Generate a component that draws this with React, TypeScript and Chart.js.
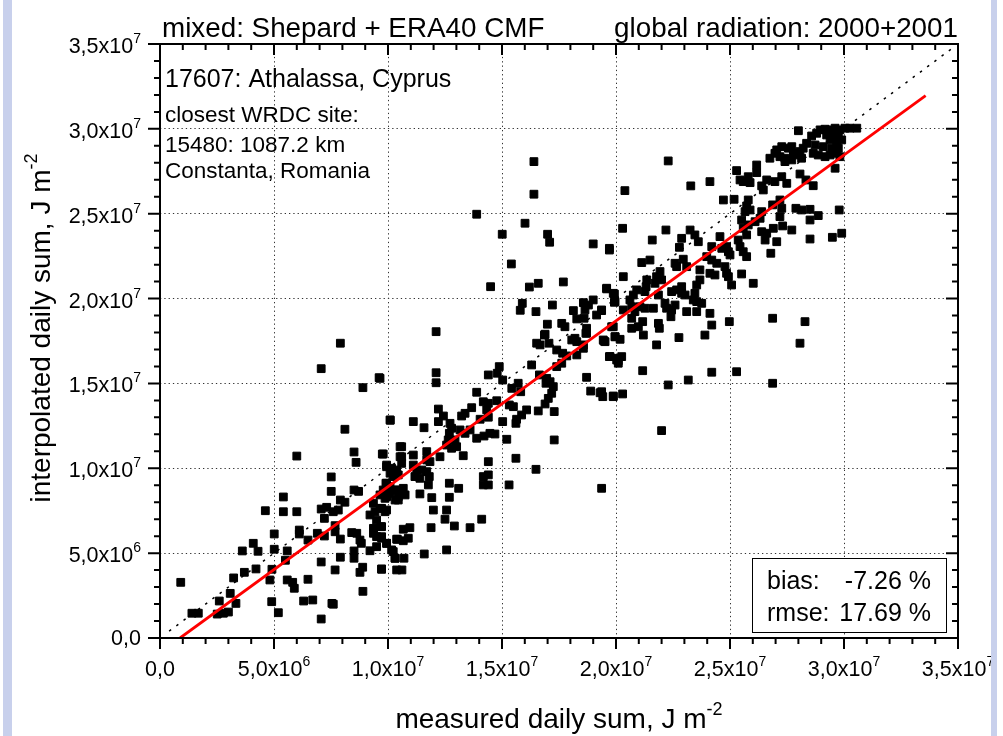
import React, { useEffect, useRef } from "react";
import { Chart, registerables } from "chart.js";

Chart.register(...registerables);

// values in units of 1e6 J m-2
const measured = [
  7.91, 7.07, 9.61, 8.90, 10.10, 8.11, 6.00, 8.51, 8.60, 9.75, 7.51, 7.51, 8.51, 8.71, 5.41, 7.91, 8.11, 4.62, 5.41, 6.00,
  7.07, 7.31, 7.60, 7.82, 7.21, 7.68, 5.01, 6.11, 6.11, 6.49, 6.90, 7.21, 7.68, 7.91, 8.41, 8.63, 8.77, 8.83, 4.09, 3.61,
  4.30, 5.01, 5.58, 5.50, 7.07, 7.91, 8.51, 8.51, 7.68, 8.89, 8.77, 9.72, 4.21, 3.70, 3.23, 4.91, 4.82, 5.58, 5.82, 5.89,
  6.49, 0.91, 3.08, 2.60, 3.33, 4.90, 6.30, 6.70, 7.54, 7.60, 8.90, 1.40, 1.68, 2.51, 2.78, 3.00, 5.19, 7.07, 9.94, 10.09,
  10.23, 9.91, 10.09, 10.32, 9.65, 9.87, 9.36, 9.65, 9.94, 9.43, 9.21, 9.50, 9.36, 9.69, 9.36, 9.50, 9.72, 9.94, 9.50, 9.21,
  10.16, 10.31, 10.38, 10.41, 10.45, 10.53, 10.53,
  12.11, 12.11, 12.11, 16.86, 16.52, 16.67, 17.06, 17.40, 17.66, 17.62, 17.40, 18.06, 18.28, 18.57, 18.71, 18.57, 19.52, 19.74, 20.06, 20.10,
  18.28, 17.84, 16.30, 16.64, 14.88, 14.79, 14.40, 15.03, 15.43, 15.71, 15.82, 16.96, 17.11, 17.25, 16.93, 18.71, 18.89, 19.30, 19.42, 19.88,
  17.18, 17.03, 16.89, 17.29, 16.59, 13.89, 14.18, 14.40, 14.77, 15.32, 15.50, 16.08, 15.86, 15.64, 15.61, 15.03, 13.67, 13.38, 13.23, 14.04,
  14.40, 14.33, 12.21, 12.43, 12.21, 12.72, 12.79, 12.69, 13.16, 13.38, 13.60, 13.89, 14.21, 14.47, 14.69, 15.21, 17.29, 10.09, 11.11, 11.58,
  10.60, 10.60, 10.60, 9.79, 9.65, 11.11, 11.70, 11.70, 11.84, 12.28, 12.57, 12.79, 13.01, 13.30, 12.64, 12.94, 14.40, 15.61, 16.49, 9.94,
  10.16, 10.38, 10.45, 11.11, 11.26, 11.48, 11.70, 11.81, 11.18, 11.40, 11.77, 9.94, 9.79, 10.09, 10.38, 10.67, 10.45, 10.75, 10.31, 9.94,
  9.72, 9.87, 11.40, 11.92, 12.69, 13.10, 12.69, 14.18, 14.40, 14.18, 14.40, 15.31, 19.37, 11.99, 12.57, 12.50, 11.89, 12.91, 13.60, 14.11,
  9.72, 9.72, 9.94, 10.23, 10.67, 10.96, 10.38, 10.67, 10.89, 10.31, 10.70, 11.59, 12.57, 10.61, 9.72,
  28.00, 28.58, 28.80, 28.95, 29.17, 29.39, 29.61, 29.82, 30.04, 30.26, 30.56, 29.24, 29.53, 29.75, 29.39, 29.68, 29.90, 28.36, 28.73, 29.09,
  29.46, 29.75, 28.21, 28.07, 27.71, 27.56, 27.27, 27.05, 26.97, 26.75, 27.19, 27.41, 27.78, 28.00, 28.14, 28.65, 28.87, 29.17, 29.39, 29.68,
  29.82, 29.61, 27.41, 27.71, 26.17, 26.17, 25.29, 28.07, 28.33, 28.65, 25.80, 25.44, 25.58, 25.88, 26.61, 26.97, 27.27, 27.49, 26.39, 26.46,
  24.12, 23.28, 22.29, 20.39, 24.71, 25.18, 25.80, 25.73, 25.88, 25.66, 26.87, 27.19, 27.27, 27.19, 27.31, 27.89, 28.14, 28.51, 28.51, 28.87,
  29.79, 26.39, 26.32, 25.51, 25.58, 25.80, 25.73, 26.10, 26.39, 26.61, 26.90, 26.54, 27.05, 27.71, 28.51, 29.49, 29.90, 20.29, 22.19, 21.59,
  22.88, 23.25, 23.46, 23.61, 22.78, 22.59, 22.95, 22.66, 23.10, 24.20, 24.56, 24.64, 24.85, 24.93, 25.00, 25.36, 25.44, 25.58, 25.73, 23.98,
  24.20, 24.42, 23.68, 24.12, 24.34, 24.78, 24.85, 24.93, 25.51, 25.07, 26.02, 26.79, 21.49, 21.13, 21.93, 21.78, 22.00, 21.71, 21.35, 21.32,
  21.27, 23.68, 23.54, 23.46, 23.54, 23.76, 23.39, 22.88, 22.66, 22.44, 22.88, 23.03, 21.86, 22.22, 22.44, 22.59, 22.15, 20.91, 20.76, 20.61,
  20.69, 21.05, 21.27, 21.64, 20.83, 20.69, 20.32, 19.59, 19.88, 19.96, 20.32, 21.17, 20.69, 21.20, 20.98, 21.86, 21.90, 21.78, 22.41, 23.10,
  23.54, 24.12, 22.76, 23.90, 24.20, 24.97, 26.87, 28.29, 28.07, 19.71, 19.37, 19.81, 19.47, 19.96, 20.18, 19.71, 20.03, 20.25, 20.10, 21.17,
  22.29, 23.17, 24.20, 25.29, 26.87, 19.37, 19.88, 20.29, 22.00,
  16.40, 16.40, 13.89, 16.01, 15.01, 17.00, 17.09, 19.00, 19.71, 15.41, 14.50, 16.20, 16.59, 17.69, 19.59, 19.93, 19.93, 15.89, 15.80, 16.49,
  17.21, 18.13, 18.57, 18.79, 19.00, 18.64, 19.15, 19.37, 18.28, 18.60, 16.99, 17.62, 17.76, 16.89, 18.71, 18.68, 19.88, 19.96, 18.20, 19.44,
];

const interpolated = [
  17.37, 15.87, 15.34, 14.75, 12.83, 12.30, 10.72, 10.96, 10.35, 10.84, 9.49, 8.64, 8.72, 8.64, 8.31, 8.13, 8.00, 7.50, 7.44, 7.44,
  7.60, 7.70, 7.44, 7.54, 7.05, 6.62, 6.13, 6.36, 6.13, 5.77, 6.17, 6.01, 6.26, 5.83, 6.21, 6.17, 5.77, 5.58, 5.58, 5.13,
  5.11, 5.23, 5.13, 4.58, 4.48, 4.76, 5.13, 4.70, 4.01, 4.17, 3.87, 4.07, 4.07, 3.87, 3.54, 4.05, 3.42, 3.42, 3.28, 2.93,
  3.46, 3.28, 2.63, 2.18, 2.04, 2.14, 2.18, 2.24, 2.04, 1.99, 2.75, 1.46, 1.46, 1.41, 1.46, 1.53, 1.49, 1.12, 10.09, 9.71,
  9.51, 9.12, 8.92, 8.72, 8.43, 8.23, 7.94, 7.64, 7.54, 7.44, 7.25, 6.95, 6.46, 6.56, 6.17, 5.97, 5.88, 5.58, 5.38, 5.14,
  5.19, 4.70, 4.01, 5.82, 8.13, 11.27, 10.68,
  18.05, 15.63, 15.04, 17.85, 17.37, 17.27, 17.37, 16.97, 16.78, 16.19, 15.99, 17.56, 17.46, 17.27, 17.96, 17.07, 17.46, 16.58, 16.48, 16.19,
  16.68, 16.62, 16.09, 15.50, 15.99, 15.60, 15.50, 15.20, 14.71, 15.01, 14.51, 15.30, 15.10, 14.81, 15.01, 15.36, 14.55, 14.45, 14.22, 14.22,
  14.42, 14.12, 13.79, 13.34, 13.38, 14.48, 13.92, 13.83, 13.98, 13.73, 13.63, 13.44, 13.14, 12.89, 12.65, 12.75, 13.57, 13.24, 13.08, 12.89,
  13.01, 13.44, 13.49, 13.08, 12.75, 12.65, 12.36, 12.06, 12.26, 12.06, 12.26, 11.77, 11.90, 12.06, 12.02, 11.71, 11.67, 12.85, 12.75, 12.39,
  11.27, 10.68, 10.29, 10.84, 15.30, 10.78, 10.98, 10.49, 10.39, 10.68, 11.37, 11.18, 11.27, 10.74, 11.67, 11.67, 10.39, 10.59, 9.94, 10.19,
  10.00, 9.90, 9.61, 10.19, 9.90, 9.90, 9.80, 9.51, 9.51, 9.41, 9.02, 9.12, 8.72, 8.53, 8.72, 8.82, 8.33, 8.43, 8.13, 8.33,
  7.64, 7.44, 8.49, 8.27, 9.12, 8.82, 8.29, 9.51, 9.61, 9.02, 9.02, 9.02, 8.82, 7.54, 7.54, 7.00, 6.50, 6.60, 6.50, 7.00,
  6.56, 5.97, 5.58, 5.09, 6.41, 6.50, 5.82, 5.73, 5.88, 4.70, 4.70, 4.95, 5.19, 4.01, 4.05,
  29.89, 29.58, 29.74, 29.94, 29.98, 29.94, 30.04, 29.94, 30.04, 30.04, 30.04, 29.64, 29.54, 29.64, 29.35, 29.25, 29.35, 29.15, 29.05, 28.95,
  28.86, 28.86, 28.86, 28.66, 28.95, 28.86, 28.95, 28.76, 28.56, 28.27, 28.36, 28.27, 28.56, 28.46, 28.27, 28.56, 28.46, 28.36, 28.46, 28.56,
  28.36, 27.68, 28.07, 28.17, 27.87, 27.42, 27.54, 27.34, 26.99, 26.65, 27.18, 26.99, 26.89, 26.83, 26.99, 26.89, 27.18, 26.79, 26.64, 26.40,
  26.89, 26.64, 28.11, 26.36, 25.81, 25.85, 25.81, 25.46, 25.22, 25.12, 25.52, 25.81, 25.32, 24.83, 24.28, 25.32, 25.22, 25.26, 24.63, 24.89,
  25.22, 25.12, 24.73, 24.63, 24.14, 24.34, 23.75, 24.53, 23.94, 23.85, 24.14, 23.45, 23.35, 24.04, 23.51, 23.61, 23.85, 24.14, 24.04, 23.45,
  23.55, 24.04, 23.75, 23.35, 23.02, 22.08, 22.32, 21.88, 21.88, 23.06, 23.65, 22.96, 23.06, 22.76, 22.57, 23.45, 23.06, 22.76, 22.47, 22.47,
  22.27, 22.08, 21.69, 21.49, 21.39, 21.88, 21.49, 21.29, 21.45, 20.80, 20.90, 22.67, 22.27, 22.12, 21.59, 21.29, 21.10, 20.90, 21.10, 20.70,
  20.41, 21.10, 20.80, 20.31, 19.82, 19.72, 19.92, 20.70, 20.51, 20.41, 20.31, 20.21, 20.21, 19.43, 19.33, 19.62, 19.72, 20.51, 20.21, 19.92,
  19.52, 19.52, 19.43, 19.43, 19.23, 18.84, 21.29, 20.61, 20.31, 19.82, 19.33, 18.64, 18.25, 17.85, 18.34, 18.54, 18.25, 17.27, 18.93, 19.23,
  19.23, 19.13, 17.70, 17.85, 18.44, 18.64, 18.84, 18.64, 17.37, 22.96, 19.33, 18.34, 17.50, 17.75, 17.60, 16.58, 16.38, 16.58, 16.34, 15.75,
  14.91, 15.20, 15.66, 15.69, 15.01, 14.51, 14.26, 14.38, 12.22,
  28.07, 26.15, 24.97, 24.44, 23.79, 23.79, 23.32, 23.22, 22.86, 22.04, 20.70, 20.68, 20.90, 20.98, 20.57, 20.27, 19.78, 19.72, 19.31, 19.23,
  19.62, 19.29, 19.76, 19.62, 19.92, 19.33, 19.03, 19.29, 18.80, 18.84, 18.49, 18.54, 18.34, 17.90, 18.25, 17.96, 18.34, 17.75, 17.66, 17.56,
];

// reference lines (endpoints, 1e6 J m-2)
const oneToOneX = [0.4, 34.7];
const oneToOneY = [0.4, 34.7];
const fitX = [0.88, 33.58];
const fitY = [0.0, 31.96];

// axis ticks (1e6 J m-2) and their labels
const majorTicks = [0, 5, 10, 15, 20, 25, 30, 35];
const tickMantissa = ["0,0", "5,0x10", "1,0x10", "1,5x10", "2,0x10", "2,5x10", "3,0x10", "3,5x10"];
const tickExponent = ["", "6", "7", "7", "7", "7", "7", "7"];

const titleLeft = "mixed: Shepard + ERA40 CMF";
const titleRight = "global radiation: 2000+2001";
const stationLines = ["17607: Athalassa, Cyprus", "closest WRDC site:", "15480: 1087.2 km", "Constanta, Romania"];
const statLabels = ["bias:", "rmse:"];
const statValues = ["-7.26 %", "17.69 %"];
const xTitle = "measured daily sum, J m";
const yTitle = "interpolated daily sum, J m";
const titleSup = "-2";

const UNIT = 1e6;
const FONT = "'Liberation Sans', Arial, Helvetica, sans-serif";

function supText(
  ctx: CanvasRenderingContext2D,
  base: string,
  sup: string,
  x: number,
  y: number,
  align: "left" | "center" | "right",
  baseSize: number,
  supSize: number,
  rise: number
) {
  ctx.font = `${baseSize}px ${FONT}`;
  const wb = ctx.measureText(base).width;
  ctx.font = `${supSize}px ${FONT}`;
  const ws = sup ? ctx.measureText(sup).width : 0;
  const total = wb + ws;
  const start = align === "right" ? x - total : align === "center" ? x - total / 2 : x;
  ctx.textAlign = "left";
  ctx.textBaseline = "alphabetic";
  ctx.font = `${baseSize}px ${FONT}`;
  ctx.fillText(base, start, y);
  if (sup) {
    ctx.font = `${supSize}px ${FONT}`;
    ctx.fillText(sup, start + wb, y - rise);
  }
}

const decorPlugin = {
  id: "decor",
  beforeDraw(chart: any) {
    const ctx = chart.ctx as CanvasRenderingContext2D;
    ctx.save();
    ctx.fillStyle = "#ffffff";
    ctx.fillRect(0, 0, chart.width, chart.height);
    ctx.restore();
  },
  afterDatasetsDraw(chart: any) {
    const ctx = chart.ctx as CanvasRenderingContext2D;
    const { left, right, top, bottom } = chart.chartArea;
    const xs = chart.scales.x;
    const ys = chart.scales.y;
    ctx.save();
    ctx.fillStyle = "#000";
    ctx.strokeStyle = "#000";

    // stats box
    ctx.fillStyle = "#fff";
    ctx.fillRect(752, 558, 194, 74);
    ctx.lineWidth = 1;
    ctx.strokeRect(752.5, 558.5, 194, 74);
    ctx.fillStyle = "#000";
    ctx.font = `25px ${FONT}`;
    ctx.textBaseline = "alphabetic";
    ctx.textAlign = "left";
    ctx.fillText(statLabels[0], 767, 589);
    ctx.fillText(statLabels[1], 767, 621);
    ctx.textAlign = "right";
    ctx.fillText(statValues[0], 931, 589);
    ctx.fillText(statValues[1], 931, 621);

    // frame
    ctx.lineWidth = 2;
    ctx.strokeRect(left, top, right - left, bottom - top);

    // ticks
    ctx.lineWidth = 2;
    ctx.beginPath();
    for (let v = 0; v <= 35; v += 1) {
      const major = v % 5 === 0;
      const px = xs.getPixelForValue(v * UNIT);
      const py = ys.getPixelForValue(v * UNIT);
      const len = major ? 11 : 6;
      // bottom (outward)
      ctx.moveTo(px, bottom);
      ctx.lineTo(px, bottom + len);
      // top (inward)
      ctx.moveTo(px, top);
      ctx.lineTo(px, top + len);
      // left (outward)
      ctx.moveTo(left, py);
      ctx.lineTo(left - (major ? 12 : 6), py);
      // right (inward)
      ctx.moveTo(right, py);
      ctx.lineTo(right - (major ? 12 : 6), py);
    }
    ctx.stroke();

    // tick labels
    ctx.fillStyle = "#000";
    majorTicks.forEach((v, i) => {
      const px = xs.getPixelForValue(v * UNIT);
      const py = ys.getPixelForValue(v * UNIT);
      supText(ctx, tickMantissa[i], tickExponent[i], px, 676, "center", 21.5, 14, 10);
      supText(ctx, tickMantissa[i], tickExponent[i], 141, py + (tickExponent[i] ? 9 : 7), "right", 21.5, 14, 10);
    });

    // titles
    ctx.font = `27.8px ${FONT}`;
    ctx.textAlign = "left";
    ctx.fillText(titleLeft, 162, 37);
    ctx.textAlign = "right";
    ctx.fillText(titleRight, 958, 37);

    // station text
    ctx.textAlign = "left";
    ctx.font = `25px ${FONT}`;
    ctx.fillText(stationLines[0], 165, 87);
    ctx.font = `22.5px ${FONT}`;
    ctx.fillText(stationLines[1], 165, 122);
    ctx.fillText(stationLines[2], 165, 152);
    ctx.fillText(stationLines[3], 165, 178);

    // axis titles
    supText(ctx, xTitle, titleSup, (left + right) / 2, 728, "center", 28, 18, 13);
    ctx.save();
    ctx.translate(50, 328);
    ctx.rotate(-Math.PI / 2);
    supText(ctx, yTitle, titleSup, 0, 0, "center", 28, 18, 13);
    ctx.restore();

    // side strips
    ctx.fillStyle = "#c8d0ec";
    ctx.fillRect(3, 0, 9, chart.height);
    ctx.fillRect(991, 0, 6, chart.height);
    ctx.restore();
  },
};

export default function App() {
  const canvasRef = useRef<HTMLCanvasElement | null>(null);

  useEffect(() => {
    document.body.style.margin = "0";
    document.body.style.background = "#fff";
    const canvas = canvasRef.current;
    if (!canvas) return;

    const points = measured.map((m, i) => ({ x: m * UNIT, y: interpolated[i] * UNIT }));
    const diag = oneToOneX.map((v, i) => ({ x: v * UNIT, y: oneToOneY[i] * UNIT }));
    const fit = fitX.map((v, i) => ({ x: v * UNIT, y: fitY[i] * UNIT }));

    const chart = new Chart(canvas, {
      type: "scatter",
      data: {
        datasets: [
          {
            label: "fit",
            data: fit,
            showLine: true,
            borderColor: "#ff0000",
            borderWidth: 2.8,
            pointRadius: 0,
            order: 0,
          },
          {
            label: "daily sums",
            data: points,
            pointStyle: "rect",
            pointRadius: 5.5,
            pointBackgroundColor: "#000",
            pointBorderColor: "#000",
            pointBorderWidth: 1,
            order: 1,
          },
          {
            label: "1:1",
            data: diag,
            showLine: true,
            borderColor: "#000",
            borderWidth: 1.5,
            borderDash: [2.5, 6.5],
            pointRadius: 0,
            order: 2,
          },
        ],
      },
      options: {
        responsive: false,
        animation: false,
        devicePixelRatio: 1,
        layout: { padding: { left: 160, right: 45, top: 44, bottom: 98 } },
        plugins: { legend: { display: false }, tooltip: { enabled: false } },
        scales: {
          x: {
            type: "linear",
            min: 0,
            max: 35 * UNIT,
            ticks: { display: false, stepSize: 5 * UNIT },
            grid: { color: "#333", lineWidth: 1, drawTicks: false },
            border: { display: false, dash: [1.3, 3] },
          },
          y: {
            type: "linear",
            min: 0,
            max: 35 * UNIT,
            ticks: { display: false, stepSize: 5 * UNIT },
            grid: { color: "#333", lineWidth: 1, drawTicks: false },
            border: { display: false, dash: [1.3, 3] },
          },
        },
      },
      plugins: [decorPlugin],
    });

    return () => chart.destroy();
  }, []);

  return (
    <div style={{ width: 1003, height: 736, background: "#fff" }}>
      <canvas ref={canvasRef} width={1003} height={736} style={{ display: "block" }} />
    </div>
  );
}
